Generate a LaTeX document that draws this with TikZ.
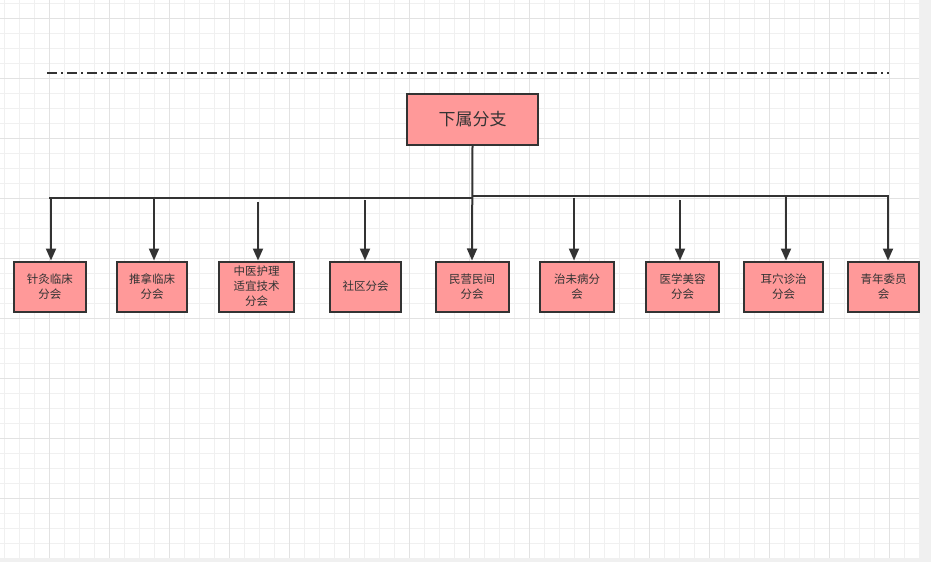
\documentclass[tikz,border=0pt]{standalone}
\usepackage{fontspec}
\setmainfont{Noto Sans CJK SC}
\usetikzlibrary{arrows.meta}
\definecolor{boxfill}{HTML}{FF9999}
\definecolor{ink}{HTML}{333333}
\definecolor{gridminor}{HTML}{F0F0F0}
\definecolor{gridmajor}{HTML}{E2E2E2}
\definecolor{sidegray}{HTML}{F0F0F0}
\tikzset{
  topbox/.style={draw=ink, fill=boxfill, line width=2pt, inner sep=0pt,
    minimum width=131pt, minimum height=51pt, text=ink,
    font=\fontsize{17}{20}\selectfont},
  childbox/.style={draw=ink, fill=boxfill, line width=2pt, inner sep=0pt,
    minimum height=50pt, text=ink, align=center,
    font=\fontsize{11.5}{15}\selectfont},
  conn/.style={draw=ink, line width=2pt},
  arr/.style={conn, -{Triangle[length=12pt,width=10pt]}},
}
\begin{document}
\begin{tikzpicture}[x=1pt,y=-1pt]
\useasboundingbox (0,0) rectangle (931,562);
\fill[white] (0,0) rectangle (931,562);
% grid
\foreach \x in {4,19,...,919} \draw[gridminor, line width=0.8pt] (\x,0) -- (\x,558);
\foreach \y in {3,18,...,558} \draw[gridminor, line width=0.8pt] (0,\y) -- (919,\y);
\foreach \x in {49,109,...,919} \draw[gridmajor, line width=0.9pt] (\x,0) -- (\x,558);
\foreach \y in {18,78,...,558} \draw[gridmajor, line width=0.9pt] (0,\y) -- (919,\y);
\fill[sidegray] (919,0) rectangle (931,562);
\fill[sidegray] (0,558) rectangle (931,562);
% dash-dot line
\coordinate (dl) at (47,72.5);
\coordinate (dr) at (889,72.5);
\draw[ink, line width=2pt, dash pattern=on 10pt off 4pt on 2pt off 4pt] (dl) -- (dr);
% nodes
\node[topbox] (top) at (472.5,119.5) {下属分支};
\node[childbox, minimum width=72pt] (c1) at (50,286.5) {针灸临床\\分会};
\node[childbox, minimum width=70pt] (c2) at (152,286.5) {推拿临床\\分会};
\node[childbox, minimum width=75pt] (c3) at (256.5,286.5) {中医护理\\适宜技术\\分会};
\node[childbox, minimum width=71pt] (c4) at (365.5,286.5) {社区分会};
\node[childbox, minimum width=73pt] (c5) at (472,286.5) {民营民间\\分会};
\node[childbox, minimum width=74pt] (c6) at (577,286.5) {治未病分\\会};
\node[childbox, minimum width=73pt] (c7) at (682.5,286.5) {医学美容\\分会};
\node[childbox, minimum width=79pt] (c8) at (783.5,286.5) {耳穴诊治\\分会};
\node[childbox, minimum width=71pt] (c9) at (883.5,286.5) {青年委员\\会};
% bus lines
\coordinate (hl) at (49,197.7);
\coordinate (hm) at (472,197.7);
\coordinate (hm2) at (472,196);
\coordinate (hr) at (889,196);
\draw[conn] (hl) -- (hm);
\draw[conn] (hm2) -- (hr);
% start points of arrows
\coordinate (s1) at (51,197.7);
\coordinate (s2) at (154,197.7);
\coordinate (s3) at (258,201.5);
\coordinate (s4) at (365,200);
\coordinate (s6) at (574,198);
\coordinate (s7) at (680,200);
\coordinate (s8) at (786,196);
\coordinate (s9) at (888,196);
\draw[arr] (top.south) -- (c5.north);
\draw[arr] (s1) -- (s1 |- c1.north);
\draw[arr] (s2) -- (s2 |- c2.north);
\draw[arr] (s3) -- (s3 |- c3.north);
\draw[arr] (s4) -- (s4 |- c4.north);
\draw[arr] (s6) -- (s6 |- c6.north);
\draw[arr] (s7) -- (s7 |- c7.north);
\draw[arr] (s8) -- (s8 |- c8.north);
\draw[arr] (s9) -- (s9 |- c9.north);
\end{tikzpicture}
\end{document}
